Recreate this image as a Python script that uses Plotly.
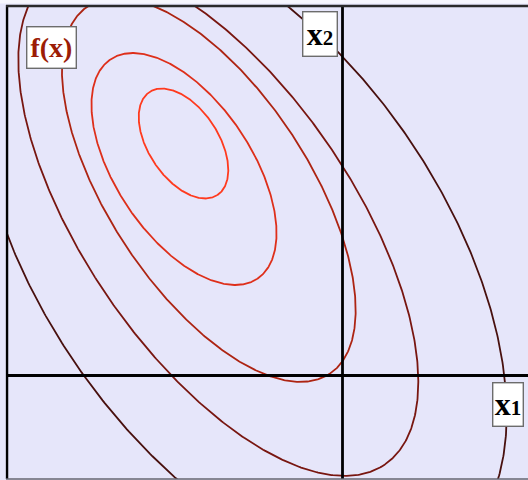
import numpy as np
import plotly.graph_objects as go

# Level curves of f(x): one tilted ellipse per contour, innermost first
center_x1 = [-1.590, -1.585, -1.337, -1.242, -1.007]
center_x2 = [2.320, 2.065, 1.855, 1.545, 1.248]
semi_major = [0.617, 1.320, 2.200, 2.950, 3.650]
semi_minor = [0.350, 0.678, 1.000, 1.340, 2.010]
tilt_deg = [-56.6, -56.2, -56.7, -55.6, -55.5]

contour_colors = ["#ff3a1e", "#de2f1a", "#ad2412", "#781610", "#48100e"]

x1_range = [-3.365, 1.855]
x2_range = [-1.035, 3.705]

LAVENDER = "#e6e6fa"
SERIF = "Liberation Serif, Times New Roman, serif"

fig = go.Figure()

t = np.linspace(0, 2 * np.pi, 721)
for cx, cy, a, b, ang, col in zip(center_x1, center_x2, semi_major, semi_minor,
                                  tilt_deg, contour_colors):
    phi = np.deg2rad(ang)
    xs = cx + a * np.cos(t) * np.cos(phi) - b * np.sin(t) * np.sin(phi)
    ys = cy + a * np.cos(t) * np.sin(phi) + b * np.sin(t) * np.cos(phi)
    fig.add_trace(go.Scatter(x=xs, y=ys, mode="lines",
                             line=dict(color=col, width=1.8),
                             hoverinfo="skip", showlegend=False))

shapes = [
    # coordinate axes through the origin
    dict(type="line", xref="x", yref="paper", x0=0, x1=0, y0=0, y1=1,
         line=dict(color="black", width=2.8), layer="above"),
    dict(type="line", xref="paper", yref="y", x0=0, x1=1, y0=0, y1=0,
         line=dict(color="black", width=2.8), layer="above"),
    # frame
    dict(type="line", xref="paper", yref="paper", x0=0.002, x1=0.002, y0=0, y1=1,
         line=dict(color="black", width=2.4), layer="above"),
    dict(type="line", xref="paper", yref="paper", x0=0, x1=1, y0=0.998, y1=0.998,
         line=dict(color="#2a2a2a", width=2.4), layer="above"),
    dict(type="line", xref="paper", yref="paper", x0=0, x1=1, y0=0, y1=0,
         line=dict(color="#666670", width=1.6), layer="above"),
    # light strip above the frame
    dict(type="rect", xref="paper", yref="paper", x0=-0.02, x1=1.01,
         y0=1.003, y1=1.02, fillcolor="#f6f6fd", line=dict(width=0),
         layer="below"),
]

box = dict(bgcolor="white", bordercolor="#6c6c6c", borderwidth=1.4,
           borderpad=0, showarrow=False, xref="x", yref="y",
           align="center", valign="middle")

annotations = [
    dict(text="<b>f(x)</b>", x=-2.91, y=3.28, width=48, height=40,
         font=dict(family=SERIF, size=28, color="#9c1c06"), **box),
    dict(text='<b>x<span style="font-size:21px">2</span></b>', x=-0.23, y=3.415,
         width=33, height=43, font=dict(family=SERIF, size=32, color="black"), **box),
    dict(text='<b>x<span style="font-size:21px">1</span></b>', x=1.653, y=-0.29,
         width=29, height=42, font=dict(family=SERIF, size=32, color="black"), **box),
]

axis_common = dict(showgrid=False, zeroline=False, showticklabels=False,
                   ticks="", showline=False, fixedrange=True)

fig.update_layout(
    width=528, height=480,
    margin=dict(l=6, r=0, t=5, b=1),
    paper_bgcolor=LAVENDER,
    plot_bgcolor=LAVENDER,
    xaxis=dict(range=x1_range, **axis_common),
    yaxis=dict(range=x2_range, **axis_common),
    shapes=shapes,
    annotations=annotations,
    showlegend=False,
)

fig.write_html("out.html")
